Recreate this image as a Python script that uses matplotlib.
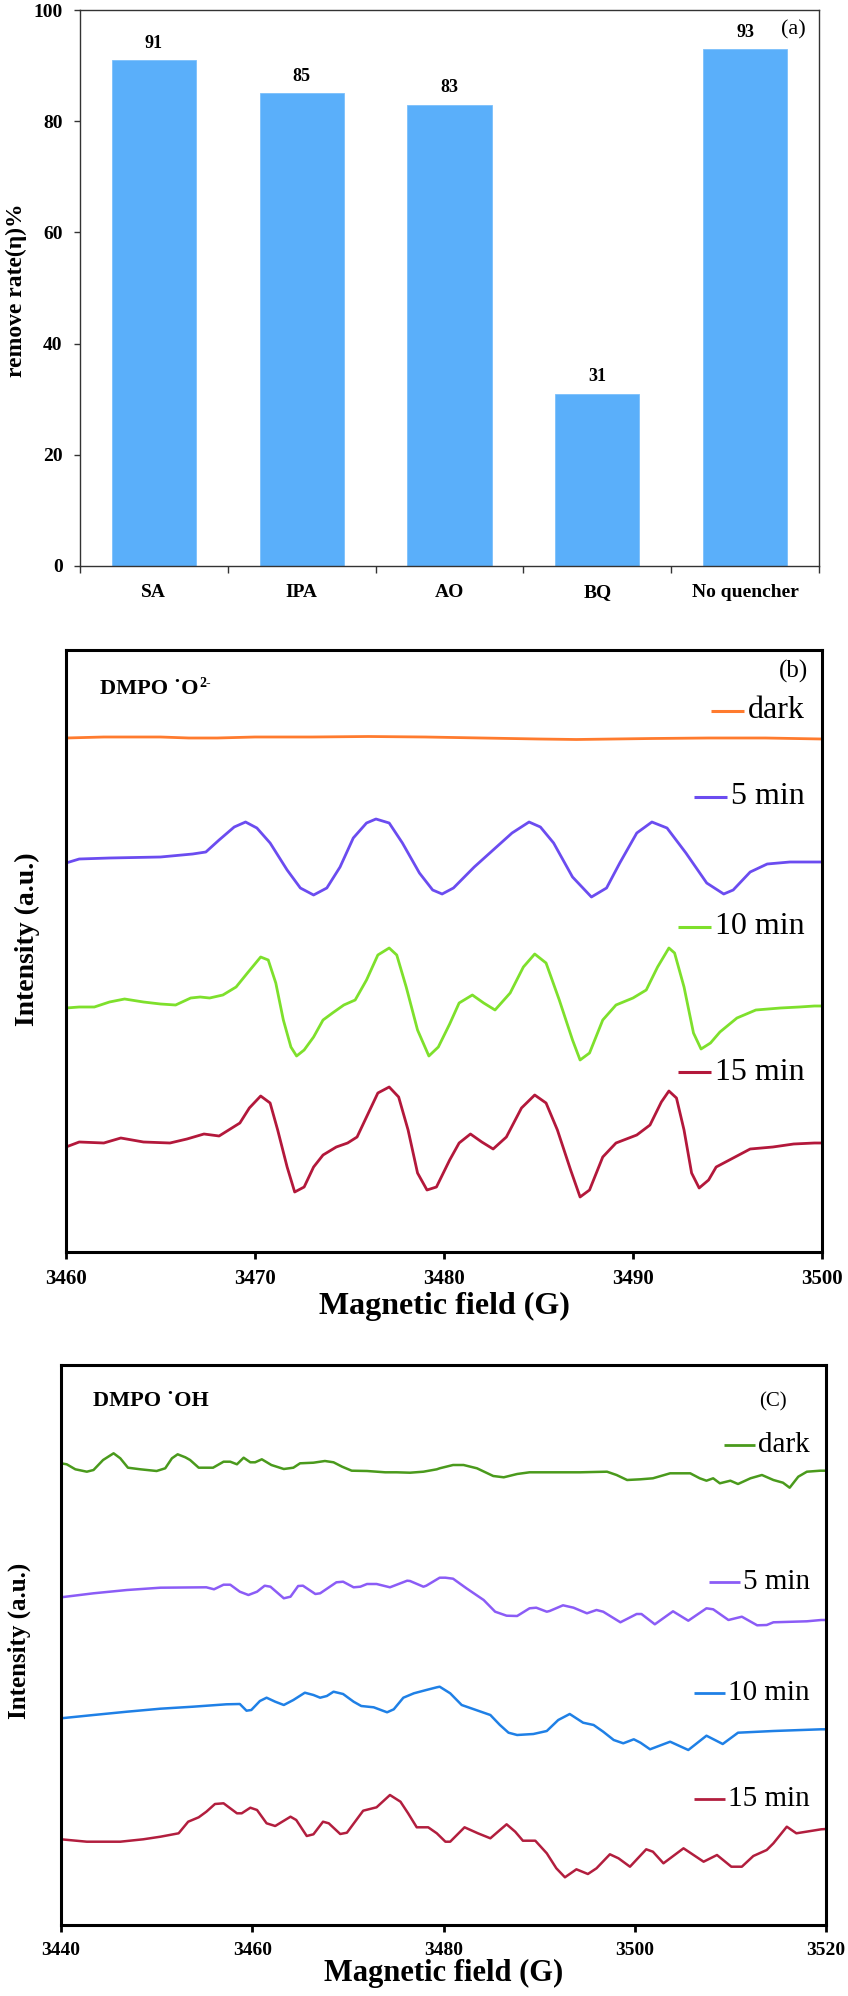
import matplotlib
matplotlib.use("Agg")
import matplotlib.pyplot as plt

plt.rcParams['font.family'] = ['Liberation Serif', 'DejaVu Serif']

# ---- panel (a): quencher test ----
quenchers = ['SA', 'IPA', 'AO', 'BQ', 'No quencher']
remove_rate = [91, 85, 83, 31, 93]

# ---- panel (b): DMPO-O2- spectra (field in G, intensity in a.u.) ----
b_dark_field = [3460, 3462, 3465, 3466.5, 3468, 3470, 3473, 3476, 3479, 3482,
                3485, 3487, 3489, 3491, 3494, 3497, 3500]
b_dark_int = [514, 515, 515, 514, 514, 515, 515, 515.5, 515, 514,
              513, 512.5, 513, 513.5, 514, 514, 513]

b_5_field = [3460.0, 3460.7, 3462.3, 3465.0, 3466.7, 3467.4, 3468.1, 3468.9, 3469.5, 3470.1,
             3470.8, 3471.7, 3472.4, 3473.1, 3473.8, 3474.5, 3475.2, 3475.9, 3476.4, 3477.1,
             3477.8, 3478.7, 3479.4, 3479.9, 3480.5, 3481.6, 3482.6, 3483.6, 3484.5, 3485.1,
             3485.8, 3486.8, 3487.8, 3488.6, 3489.3, 3490.2, 3491.0, 3491.8, 3492.8, 3493.9,
             3494.8, 3495.3, 3496.2, 3497.1, 3498.3, 3499.7, 3500.0]
b_5_int = [389, 393, 394, 395, 398, 400, 412, 425, 430, 424,
           409, 382, 364, 357, 364, 385, 414, 429, 433, 429,
           409, 379, 362, 358, 364, 385, 402, 419, 430, 425,
           409, 375, 355, 364, 389, 419, 430, 424, 399, 369,
           358, 362, 380, 388, 390, 390, 390]

b_10_field = [3460.0, 3460.7, 3461.5, 3462.3, 3463.1, 3464.1, 3465.0, 3465.8, 3466.6, 3467.1,
              3467.6, 3468.3, 3469.0, 3469.6, 3470.3, 3470.7, 3471.1, 3471.5, 3471.9, 3472.2,
              3472.6, 3473.1, 3473.6, 3474.1, 3474.7, 3475.3, 3475.9, 3476.5, 3477.1, 3477.5,
              3478.0, 3478.6, 3479.2, 3479.7, 3480.3, 3480.8, 3481.5, 3482.1, 3482.7, 3483.5,
              3484.2, 3484.8, 3485.4, 3486.1, 3486.8, 3487.2, 3487.7, 3488.4, 3489.1, 3490.0,
              3490.7, 3491.3, 3491.9, 3492.2, 3492.7, 3493.2, 3493.6, 3494.1, 3494.6, 3495.5,
              3496.5, 3497.8, 3498.8, 3499.6, 3500.0]
b_10_int = [244, 245, 245, 250, 253, 250, 248, 247, 254, 255,
            254, 257, 265, 279, 295, 292, 269, 232, 205, 196,
            202, 215, 232, 239, 247, 252, 272, 297, 304, 297,
            265, 222, 196, 205, 228, 249, 257, 249, 242, 259,
            285, 298, 289, 252, 212, 192, 199, 232, 247, 254,
            262, 285, 304, 299, 265, 219, 203, 209, 220, 234,
            242, 244, 245, 246, 246]

b_15_field = [3460.0, 3460.7, 3462.0, 3462.9, 3464.1, 3465.5, 3466.4, 3467.3, 3468.1, 3469.2,
              3469.7, 3470.3, 3470.8, 3471.2, 3471.7, 3472.1, 3472.6, 3473.1, 3473.6, 3474.3,
              3474.9, 3475.4, 3475.9, 3476.5, 3477.1, 3477.6, 3478.1, 3478.6, 3479.1, 3479.6,
              3480.3, 3480.8, 3481.4, 3482.0, 3482.6, 3483.3, 3484.1, 3484.8, 3485.4, 3486.0,
              3486.7, 3487.2, 3487.7, 3488.4, 3489.1, 3490.2, 3490.9, 3491.5, 3491.9, 3492.3,
              3492.7, 3493.1, 3493.5, 3494.0, 3494.4, 3495.3, 3496.2, 3497.4, 3498.5, 3499.6,
              3500.0]
b_15_int = [105, 110, 109, 114, 110, 109, 113, 118, 116, 129,
            144, 156, 149, 122, 85, 60, 65, 85, 97, 105,
            109, 115, 135, 159, 165, 155, 122, 79, 62, 65,
            92, 109, 118, 110, 103, 115, 144, 157, 149, 122,
            82, 55, 62, 95, 109, 117, 127, 150, 161, 154,
            122, 79, 64, 72, 85, 94, 103, 105, 108, 109,
            109]

# ---- panel (c): DMPO-OH spectra ----
c_dark_field = [3440.0, 3440.6, 3441.5, 3442.7, 3443.4, 3444.4, 3445.5, 3446.2, 3447.0, 3448.3,
                3450.0, 3450.9, 3451.6, 3452.2, 3453.0, 3453.5, 3454.4, 3455.9, 3457.0, 3457.7,
                3458.4, 3459.1, 3459.8, 3460.3, 3461.0, 3462.0, 3463.3, 3464.3, 3465.0, 3466.4,
                3467.6, 3468.5, 3469.4, 3470.4, 3472.0, 3473.9, 3475.1, 3476.5, 3477.9, 3479.3,
                3479.6, 3481.0, 3482.1, 3483.5, 3485.2, 3486.3, 3487.7, 3489.0, 3490.8, 3494.3,
                3497.1, 3498.1, 3499.2, 3500.6, 3501.9, 3503.7, 3505.8, 3506.8, 3507.5, 3508.2,
                3508.9, 3510.0, 3510.8, 3512.1, 3513.3, 3514.5, 3515.5, 3516.2, 3517.1, 3518.0,
                3519.4, 3520.0]
c_dark_int = [461.7, 460.7, 455.7, 453.3, 455.0, 465.0, 471.7, 466.7, 457.3, 455.7,
              454.0, 456.7, 466.7, 470.7, 467.7, 465.0, 457.3, 457.3, 463.3, 463.3,
              460.7, 467.3, 462.7, 462.7, 465.7, 460.0, 456.0, 457.3, 461.7, 462.3,
              464.0, 462.7, 458.3, 454.3, 454.0, 452.7, 452.7, 452.3, 453.3, 455.7,
              456.7, 460.0, 460.0, 456.7, 449.0, 447.7, 451.0, 452.7, 452.7, 452.7,
              453.3, 450.0, 445.0, 445.7, 446.7, 451.7, 451.7, 446.7, 444.3, 446.7,
              441.7, 444.3, 441.0, 446.7, 450.0, 445.0, 442.3, 437.3, 448.3, 453.3,
              454.3, 454.3]

c_5_field = [3440.0, 3443.4, 3446.9, 3450.4, 3455.2, 3456.0, 3457.0, 3457.7, 3458.7, 3459.6,
             3460.5, 3461.3, 3461.9, 3463.3, 3464.0, 3464.8, 3465.3, 3466.6, 3467.1, 3468.8,
             3469.5, 3470.6, 3471.3, 3472.0, 3473.0, 3474.4, 3476.2, 3476.5, 3477.9, 3478.2,
             3479.6, 3480.2, 3481.0, 3482.4, 3484.2, 3485.4, 3486.6, 3487.7, 3489.0, 3489.7,
             3490.8, 3491.1, 3492.5, 3493.6, 3495.0, 3496.0, 3496.7, 3498.5, 3500.2, 3500.7,
             3502.1, 3504.0, 3505.6, 3507.5, 3508.2, 3509.8, 3511.2, 3512.8, 3513.8, 3514.5,
             3518.0, 3519.5, 3520.0]
c_5_int = [327.7, 331.7, 335.0, 337.3, 337.7, 335.7, 340.3, 340.3, 333.3, 330.0,
           333.3, 339.3, 338.3, 326.7, 328.3, 339.0, 339.3, 331.0, 331.7, 342.7,
           343.3, 337.7, 338.3, 341.0, 341.0, 337.7, 344.3, 344.0, 338.3, 339.3,
           347.3, 347.3, 346.3, 336.7, 325.0, 313.3, 309.3, 309.0, 316.7, 317.3,
           313.3, 314.0, 319.7, 317.3, 311.7, 315.0, 313.3, 302.7, 311.0, 311.0,
           300.7, 313.7, 304.3, 316.7, 315.7, 305.0, 308.3, 299.7, 300.0, 302.7,
           303.7, 305.0, 305.0]

c_10_field = [3440.0, 3443.4, 3446.9, 3450.4, 3453.8, 3457.3, 3458.7, 3459.4, 3459.9, 3460.8,
              3461.5, 3462.4, 3463.3, 3464.3, 3465.5, 3466.4, 3467.1, 3467.8, 3468.5, 3469.5,
              3470.6, 3471.4, 3472.7, 3474.1, 3474.8, 3475.8, 3476.9, 3478.2, 3479.3, 3479.6,
              3480.7, 3481.9, 3483.1, 3484.9, 3485.9, 3486.8, 3487.7, 3489.4, 3490.8, 3492.0,
              3493.2, 3494.6, 3495.7, 3496.7, 3497.8, 3498.8, 3499.9, 3500.6, 3501.6, 3503.7,
              3505.6, 3507.5, 3509.2, 3510.8, 3514.5, 3519.5, 3520.0]
c_10_int = [206.7, 210.0, 213.3, 216.3, 218.3, 220.7, 221.0, 214.3, 215.0, 224.0,
            227.3, 223.3, 220.0, 225.0, 232.3, 230.0, 227.3, 229.0, 233.3, 231.0,
            223.3, 219.0, 217.7, 212.7, 215.7, 227.3, 231.7, 235.0, 237.7, 238.3,
            231.7, 220.0, 216.0, 210.0, 200.0, 192.3, 190.0, 191.0, 194.0, 205.0,
            211.0, 202.3, 200.0, 193.3, 185.0, 181.7, 185.7, 182.3, 175.7, 183.3,
            175.0, 189.3, 181.0, 192.3, 194.0, 195.7, 195.7]

c_15_field = [3440.0, 3442.7, 3446.2, 3448.6, 3450.4, 3452.3, 3453.3, 3454.4, 3455.2, 3456.1,
              3457.0, 3458.4, 3458.9, 3459.8, 3460.5, 3461.5, 3462.4, 3464.0, 3464.6, 3465.7,
              3466.4, 3467.4, 3468.0, 3469.2, 3469.9, 3471.6, 3473.0, 3474.4, 3475.5, 3476.3,
              3477.2, 3478.4, 3479.3, 3480.2, 3480.7, 3482.2, 3483.6, 3484.9, 3485.9, 3486.6,
              3487.5, 3488.3, 3489.6, 3490.8, 3491.8, 3492.7, 3493.9, 3495.1, 3496.0, 3497.4,
              3498.3, 3499.5, 3501.2, 3501.9, 3503.0, 3505.1, 3507.2, 3508.6, 3510.1, 3511.2,
              3512.4, 3513.8, 3514.5, 3515.9, 3516.9, 3519.5, 3520.0]
c_15_int = [85.7, 83.3, 83.3, 85.7, 88.3, 91.7, 103.3, 107.7, 113.3, 121.0,
            121.7, 111.7, 111.7, 117.3, 115.0, 101.7, 99.0, 108.3, 105.0, 89.0,
            90.7, 103.3, 101.7, 91.0, 92.3, 114.3, 117.7, 130.0, 123.3, 111.7,
            97.7, 97.7, 91.7, 83.3, 83.3, 97.7, 91.7, 86.7, 95.0, 100.7,
            93.3, 84.3, 84.3, 71.7, 56.7, 47.7, 55.7, 51.0, 56.7, 70.7,
            66.7, 58.3, 75.7, 73.3, 61.7, 76.7, 63.3, 70.0, 58.3, 58.3,
            69.0, 75.0, 81.7, 98.3, 91.7, 95.7, 96.0]

BAR_COLOR = '#5aaffa'
B_COLORS = ['#ff7b2e', '#6b4cf0', '#7ee02c', '#b3183b']
C_COLORS = ['#4a9a1c', '#8b5cf6', '#1f80e6', '#b21e3e']
LABELS = ['dark', '5 min', '10 min', '15 min']

W, H = 848, 1996
fig = plt.figure(figsize=(W / 100, H / 100), dpi=100)


def px_axes(left, top, right, bottom):
    return fig.add_axes([left / W, 1 - bottom / H, (right - left) / W, (bottom - top) / H])


def px_text(x, y, s, **kw):
    return fig.text(x / W, 1 - y / H, s, **kw)


# ================= (a) =================
ax = px_axes(80, 10, 819, 566)
centers = [i + 0.5 for i in range(len(quenchers))]
ax.bar(centers, remove_rate, width=0.57, color=BAR_COLOR, edgecolor='#7cc0fb', linewidth=0.6)
for x, v in zip(centers, remove_rate):
    ax.text(x, v + 3.0, str(v), ha='center', va='center', fontsize=13, fontweight='bold')
ax.set_xlim(0, len(quenchers))
ax.set_ylim(0, 100)
ax.set_yticks(range(0, 101, 20))
ax.set_xticks(centers)
ax.set_xticklabels(quenchers, fontsize=14, fontweight='bold')
ax.set_xticks(range(len(quenchers) + 1), minor=True)
ax.tick_params(axis='x', which='major', length=0, pad=13)
ax.tick_params(axis='x', which='minor', length=5, width=1, direction='out', color='#333333')
ax.tick_params(axis='y', length=4.5, width=1, direction='out', pad=8, labelsize=14, color='#333333')
for lab in ax.get_yticklabels():
    lab.set_fontweight('bold')
for sp in ax.spines.values():
    sp.set_color('#333333')
    sp.set_linewidth(1.0)
px_text(16, 290, 'remove rate(η)%', rotation=90, ha='center', va='center',
        fontsize=17, fontweight='bold')
ax.text(0.965, 0.965, '(a)', transform=ax.transAxes, ha='center', va='center', fontsize=16)


def legend_entries(ax, x_right, ys, colors, labels, fsize, lw, gap, length):
    texts = []
    for y, lab in zip(ys, labels):
        texts.append(ax.text(x_right, y, lab, ha='right', va='center', fontsize=fsize))
    fig.canvas.draw()
    inv = ax.transData.inverted()
    for t, y, c in zip(texts, ys, colors):
        bb = t.get_window_extent()
        x0 = inv.transform((bb.x0 - gap, 0))[0]
        x1 = inv.transform((bb.x0 - gap - length, 0))[0]
        ax.plot([x1, x0], [y, y], color=c, lw=lw, solid_capstyle='butt')


def style_spec(ax, xticks, labelsize):
    ax.set_yticks([])
    ax.set_xticks(xticks)
    ax.tick_params(axis='x', length=5, width=2, direction='out', pad=7, labelsize=labelsize)
    for lab in ax.get_xticklabels():
        lab.set_fontweight('bold')
    for sp in ax.spines.values():
        sp.set_linewidth(2.2)
        sp.set_color('black')


# ================= (b) =================
ax = px_axes(66, 650, 822, 1252)
b_sets = [(b_dark_field, b_dark_int), (b_5_field, b_5_int),
          (b_10_field, b_10_int), (b_15_field, b_15_int)]
for (fx, iy), c in zip(b_sets, B_COLORS):
    ax.plot(fx, iy, color=c, lw=2.0, solid_joinstyle='round')
ax.set_xlim(3460, 3500)
ax.set_ylim(0, 602)
style_spec(ax, [3460, 3470, 3480, 3490, 3500], 15)
ax.set_xlabel('Magnetic field (G)', fontsize=23, fontweight='bold', labelpad=2)
px_text(27, 939, 'Intensity (a.u.)', rotation=90, ha='center', va='center',
        fontsize=20, fontweight='bold')
ax.text(0.962, 0.965, '(b)', transform=ax.transAxes, ha='center', va='center', fontsize=18)
t = ax.text(0.045, 0.935, 'DMPO ˙O', transform=ax.transAxes,
            ha='left', va='center', fontsize=16, fontweight='bold')
fig.canvas.draw()
bb = t.get_window_extent()
ax.annotate('2-', xy=(bb.x1 + 1, bb.y1 + 2), xycoords='figure pixels',
            ha='left', va='top', fontsize=10, fontweight='bold')
legend_entries(ax, 3499.1, [541, 455, 325, 180], B_COLORS, LABELS, 23, 2.2, 4, 33)

# ================= (c) =================
ax = px_axes(61, 1365, 826, 1925)
c_sets = [(c_dark_field, c_dark_int), (c_5_field, c_5_int),
          (c_10_field, c_10_int), (c_15_field, c_15_int)]
for (fx, iy), c in zip(c_sets, C_COLORS):
    ax.plot(fx, iy, color=c, lw=1.8, solid_joinstyle='round')
ax.set_xlim(3440, 3520)
ax.set_ylim(0, 560)
style_spec(ax, [3440, 3460, 3480, 3500, 3520], 14)
ax.set_xlabel('Magnetic field (G)', fontsize=22, fontweight='bold', labelpad=0)
px_text(19, 1641, 'Intensity (a.u.)', rotation=90, ha='center', va='center',
        fontsize=18, fontweight='bold')
ax.text(0.93, 0.935, '(C)', transform=ax.transAxes, ha='center', va='center', fontsize=15)
ax.text(0.042, 0.935, 'DMPO ˙OH', transform=ax.transAxes,
        ha='left', va='center', fontsize=16, fontweight='bold')
legend_entries(ax, 3518.3, [480, 343, 232, 126], C_COLORS, LABELS, 21, 2.0, 3, 31)

fig.savefig('out.png', dpi=100)
